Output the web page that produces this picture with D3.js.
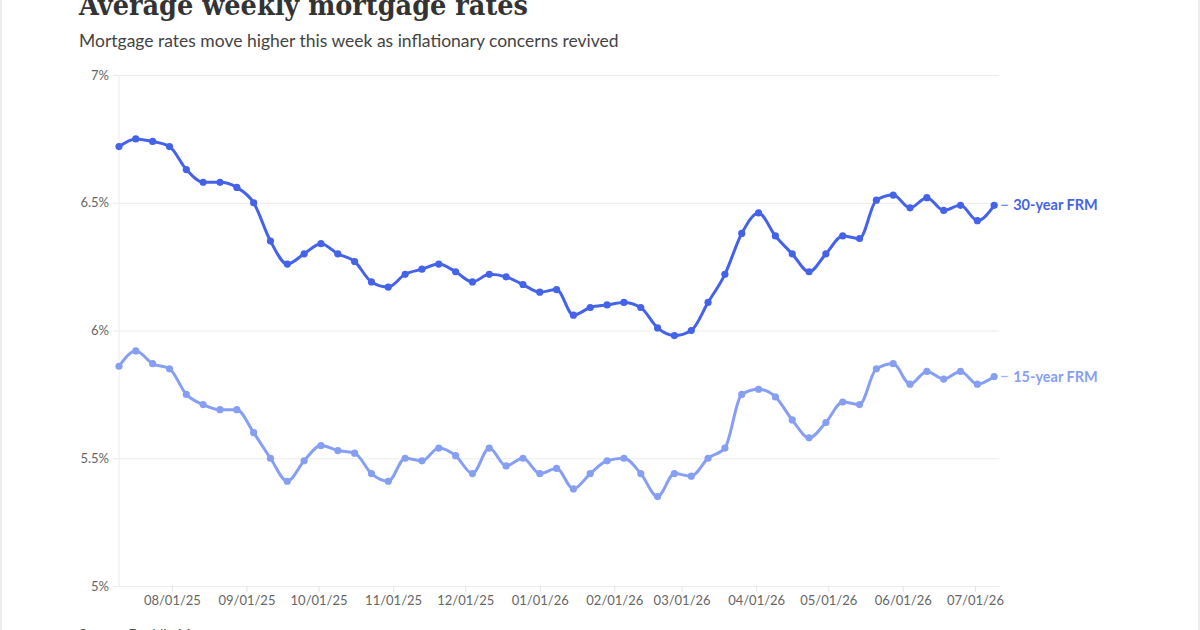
<html>

<head>
    <style>
        body { margin: 0; background: #fff; }
        text { font-family: Lato, "Noto Sans", sans-serif; }
    </style>
</head>

<body>
    <svg id="chart">
        <g id="head"></g>
        <g id="body"></g>
    </svg>
</body>
<script src="https://cdn.jsdelivr.net/npm/d3@7"></script>
<script>
    // data: Freddie Mac weekly averages, first week 07/10/25
    let startWeek = "2025-07-10"
    let rate30 = [6.72, 6.75, 6.74, 6.72, 6.63, 6.58, 6.58, 6.56, 6.50, 6.35,
        6.26, 6.30, 6.34, 6.30, 6.27, 6.19, 6.17, 6.22, 6.24, 6.26,
        6.23, 6.19, 6.22, 6.21, 6.18, 6.15, 6.16, 6.06, 6.09, 6.10,
        6.11, 6.09, 6.01, 5.98, 6.00, 6.11, 6.22, 6.38, 6.46, 6.37,
        6.30, 6.23, 6.30, 6.37, 6.36, 6.51, 6.53, 6.48, 6.52, 6.47,
        6.49, 6.43, 6.49]
    let rate15 = [5.86, 5.92, 5.87, 5.85, 5.75, 5.71, 5.69, 5.69, 5.60, 5.50,
        5.41, 5.49, 5.55, 5.53, 5.52, 5.44, 5.41, 5.50, 5.49, 5.54,
        5.51, 5.44, 5.54, 5.47, 5.50, 5.44, 5.46, 5.38, 5.44, 5.49,
        5.50, 5.44, 5.35, 5.44, 5.43, 5.50, 5.54, 5.75, 5.77, 5.74,
        5.65, 5.58, 5.64, 5.72, 5.71, 5.85, 5.87, 5.79, 5.84, 5.81,
        5.84, 5.79, 5.82]
    let seriesNames = ["30-year FRM", "15-year FRM"]
    let seriesColors = ["#4463e8", "#869ff3"]
    let yTicks = [5, 5.5, 6, 6.5, 7]
    let xTicks = ["2025-08-01", "2025-09-01", "2025-10-01", "2025-11-01", "2025-12-01",
        "2026-01-01", "2026-02-01", "2026-03-01", "2026-04-01", "2026-05-01",
        "2026-06-01", "2026-07-01"]

    //Setup
    let width = 1200,
        height = 630,
        margin = { top: 75, right: 201, bottom: 44, left: 119 },
        bodyWidth = width - margin.left - margin.right,
        bodyHeight = height - margin.top - margin.bottom

    let parse = d3.utcParse("%Y-%m-%d")
    let weeks = rate30.map((d, i) => d3.utcWeek.offset(parse(startWeek), i))

    let svg = d3.select("#chart").attr("width", width).attr("height", height)

    // frame edges
    svg.append("line").attr("x1", 1).attr("x2", 1).attr("y1", 0).attr("y2", height).attr("stroke", "#ddd")
    svg.append("line").attr("x1", width - 1).attr("x2", width - 1).attr("y1", 0).attr("y2", height).attr("stroke", "#ddd")

    let head = d3.select("#head")
    head.append("text").text("Average weekly mortgage rates")
        .attr("x", 79).attr("y", 15)
        .attr("textLength", 449).attr("lengthAdjust", "spacingAndGlyphs")
        .style("font-family", "'DejaVu Serif', serif")
        .style("font-weight", "bold").style("font-size", "28px").attr("fill", "#333")
    head.append("text").text("Mortgage rates move higher this week as inflationary concerns revived")
        .attr("x", 79).attr("y", 47)
        .style("font-size", "17.5px").attr("fill", "#444")
    head.append("text").text("Source: Freddie Mac")
        .attr("x", 79).attr("y", 639)
        .style("font-size", "14px").attr("fill", "#555")

    let x = d3.scaleUtc()
        .domain([weeks[0], d3.utcDay.offset(weeks[weeks.length - 1], 2)])
        .range([0, bodyWidth])
    let y = d3.scaleLinear().domain([5, 7]).range([bodyHeight, 0])

    let body = d3.select("#body").attr("transform", `translate(${margin.left},${margin.top})`)

    // grid + y axis
    let yAxis = body.append("g")
        .call(d3.axisLeft(y).tickValues(yTicks).tickSize(-bodyWidth - 6).tickPadding(6)
            .tickFormat(d => d + "%"))
        .attr("transform", "translate(-6,0)")
    yAxis.select(".domain").remove()
    yAxis.selectAll("line").attr("stroke", "#ececec")
    yAxis.selectAll("text").style("font-size", "13px").attr("fill", "#666").attr("dx", 2)

    body.append("line").attr("x1", 0).attr("x2", 0).attr("y1", 0).attr("y2", bodyHeight).attr("stroke", "#ececec")

    // x axis
    let xAxis = body.append("g").attr("transform", `translate(0,${bodyHeight})`)
        .call(d3.axisBottom(x).tickValues(xTicks.map(parse)).tickSize(6).tickPadding(4)
            .tickFormat(d3.utcFormat("%m/%d/%y")))
    xAxis.select(".domain").remove()
    xAxis.selectAll("line").attr("stroke", "#e4e4e4")
    xAxis.selectAll("text").style("font-size", "13px").attr("fill", "#666")

    let series = [rate30, rate15].map((vals, k) => ({
        name: seriesNames[k],
        color: seriesColors[k],
        points: vals.map((v, i) => ({ date: weeks[i], value: v }))
    }))

    let line = d3.line().x(d => x(d.date)).y(d => y(d.value)).curve(d3.curveMonotoneX)

    let groups = body.selectAll("g.series")
        .data(series.slice().reverse())
        .enter().append("g").attr("class", "series")

    groups.append("path")
        .attr("d", d => line(d.points))
        .attr("fill", "none")
        .attr("stroke", d => d.color)
        .attr("stroke-width", 3)
        .attr("stroke-linejoin", "round")

    groups.selectAll("circle")
        .data(d => d.points.map(p => ({ ...p, color: d.color })))
        .enter().append("circle")
        .attr("cx", d => x(d.date)).attr("cy", d => y(d.value))
        .attr("r", 3.6).attr("fill", d => d.color)

    // end labels
    let labels = groups.append("g")
        .attr("transform", d => {
            let last = d.points[d.points.length - 1]
            return `translate(${x(last.date)},${y(last.value)})`
        })
    labels.append("line").attr("x1", 7).attr("x2", 14).attr("stroke", d => d.color).attr("stroke-width", 1.2).attr("opacity", 0.8)
    labels.append("text").text(d => d.name)
        .attr("x", 19).attr("dy", "0.35em")
        .style("font-size", "14.5px").style("font-weight", "bold")
        .attr("fill", d => d.color)

</script>

</html>
